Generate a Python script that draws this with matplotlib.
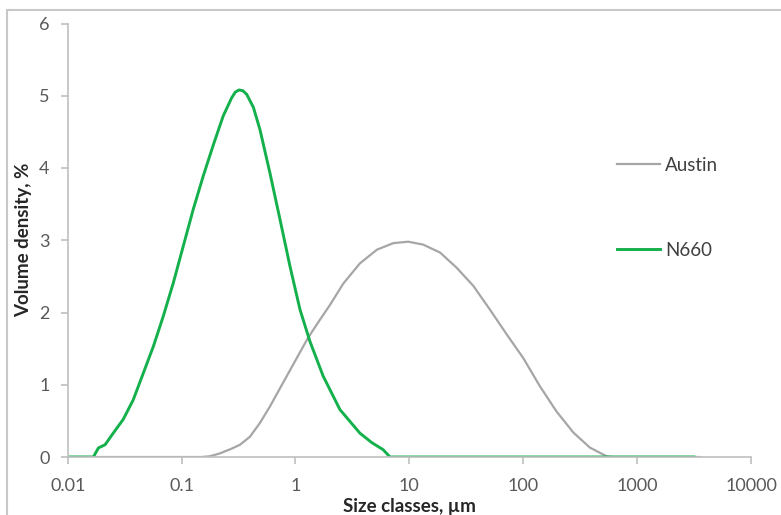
import matplotlib.pyplot as plt
from matplotlib.patches import Rectangle

# size classes (um) and volume density (%)
austin_x = [0.01, 0.15, 0.177, 0.217, 0.27, 0.326, 0.398, 0.487, 0.597, 0.731, 0.895,
            1.096, 1.29, 1.64, 2.0, 2.63, 3.68, 5.2, 7.23, 9.78, 13.2, 18.6, 26.0, 36.4,
            51.0, 71.4, 100, 140, 196, 275, 385, 540, 617, 3550]
austin_y = [0, 0, 0.01, 0.05, 0.11, 0.17, 0.28, 0.47, 0.70, 0.95, 1.20,
            1.45, 1.65, 1.90, 2.10, 2.40, 2.68, 2.87, 2.96, 2.98, 2.94, 2.83, 2.62, 2.37,
            2.04, 1.70, 1.37, 0.98, 0.63, 0.34, 0.13, 0.01, 0, 0]

n660_x = [0.01, 0.0168, 0.0186, 0.0213, 0.0251, 0.0307, 0.0376, 0.0461, 0.0565, 0.0691,
          0.0846, 0.1035, 0.1267, 0.155, 0.19, 0.232, 0.275, 0.296, 0.319, 0.345, 0.373,
          0.427, 0.488, 0.597, 0.731, 0.895, 1.096, 1.34, 1.75, 2.46, 3.68, 4.67, 5.9,
          6.76, 3160]
n660_y = [0, 0, 0.125, 0.17, 0.33, 0.52, 0.79, 1.16, 1.53, 1.95,
          2.41, 2.92, 3.43, 3.89, 4.32, 4.72, 4.97, 5.05, 5.08, 5.07, 5.02,
          4.84, 4.53, 3.93, 3.29, 2.64, 2.04, 1.60, 1.12, 0.655, 0.33, 0.20, 0.10,
          0, 0]

xticks = [0.01, 0.1, 1, 10, 100, 1000, 10000]
xtick_labels = ['0.01', '0.1', '1', '10', '100', '1000', '10000']
yticks = [0, 1, 2, 3, 4, 5, 6]

plt.rcParams['font.family'] = ['Lato', 'DejaVu Sans']

W, H = 781, 515
fig = plt.figure(figsize=(W / 100, H / 100), dpi=100)
fig.patches.append(Rectangle((7 / W, -0.1), 1.2, 1 - 10 / H + 0.1, transform=fig.transFigure,
                             fill=False, edgecolor='#c8c8c8', linewidth=1.5))

ax = fig.add_axes([67.7 / W, (H - 457) / H, (751 - 67.7) / W, (457 - 23.5) / H])
ax.plot(austin_x, austin_y, color='#a6a6a6', linewidth=1.6, label='Austin',
        solid_joinstyle='round')
ax.plot(n660_x, n660_y, color='#13b04b', linewidth=2.1, label='N660',
        solid_joinstyle='round')

ax.set_xscale('log')
ax.set_xlim(0.01, 10000)
ax.set_ylim(0, 6)
ax.set_xticks(xticks)
ax.set_xticklabels(xtick_labels)
ax.minorticks_off()
ax.set_yticks(yticks)

for side in ['top', 'right']:
    ax.spines[side].set_visible(False)
for side in ['left', 'bottom']:
    ax.spines[side].set_color('#bfbfbf')
    ax.spines[side].set_linewidth(1.2)
ax.tick_params(colors='#bfbfbf', labelcolor='#595959', labelsize=13, length=5, width=1.2)
ax.tick_params(axis='y', pad=8)
ax.tick_params(axis='x', pad=10)

ax.set_xlabel('Size classes, µm', fontsize=13.5, fontweight='bold', color='#262626', labelpad=3)
ax.set_ylabel('Volume density, %', fontsize=13.5, fontweight='bold', color='#262626', labelpad=5)

leg = ax.legend(loc='upper left', bbox_to_anchor=(617 / W, 1 - 157 / H), bbox_transform=fig.transFigure,
                frameon=False, fontsize=13.5, handlelength=2.3, handletextpad=0.25, labelspacing=3.6,
                borderpad=0, borderaxespad=0)
for t in leg.get_texts():
    t.set_color('#404040')

fig.savefig('out.png', dpi=100)
